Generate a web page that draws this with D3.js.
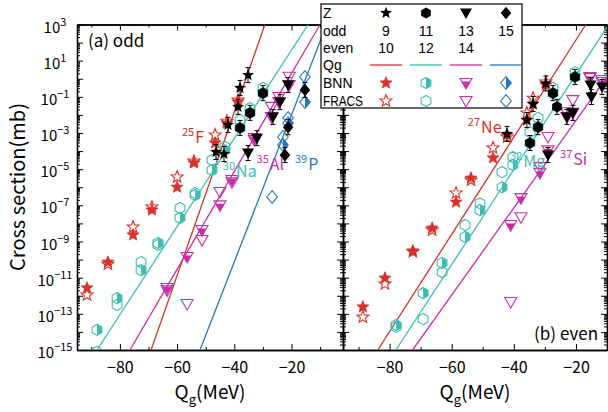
<!DOCTYPE html>
<html>
<head>
<meta charset="utf-8">
<script src="https://cdn.jsdelivr.net/npm/d3@7"></script>
<style>
body { margin: 0; background: #fff; }
text { font-family: "Noto Sans CJK JP", "Liberation Sans", Arial, sans-serif; fill: #000; }
text.lg { font-family: "Liberation Sans", Arial, sans-serif; }
</style>
</head>
<body>
<script>
// ---------- (a) odd Z ----------
// Z=9 (F)
var fQg      = [-91.5, -84.2, -75.4, -68.8, -60.0, -54.1, -46.7, -42.6, -38.7];
var fBNN     = [2.7e-12, 7.2e-11, 2.3e-9, 5.5e-8, 1.0e-6, 2.2e-5, 2.8e-4, 3.5e-3, 5.1e-2];
var fFRACS   = [1.1e-12, 5.6e-11, 6.3e-9, 8.1e-8, 3.7e-6, 2.8e-5, 7.8e-4, 4.5e-3, 6.6e-2];
var fExpQg   = [-46.4, -43.6, -42.2, -38.7, -38.0, -35.2];
var fExp     = [8.9e-5, 6.9e-5, 2.8e-3, 2.8e-2, 0.31, 1.6];
// Z=11 (Na)
var naQg     = [-88.0, -81.0, -72.6, -66.7, -59.0, -53.7, -47.8, -43.3, -38.0, -34.5, -30.0];
var naBNN    = [1.3e-14, 7.4e-13, 2.6e-11, 8.3e-10, 2.0e-8, 3.7e-7, 8.9e-6, 1.1e-4, 1.9e-3, 1.3e-2, 0.16];
var naFRACS  = [8e-16, 3.1e-13, 7.2e-11, 6.5e-10, 7.1e-8, 4.8e-7, 3.2e-5, 1.7e-4, 5.2e-3, 2.4e-2, 0.31];
var naExpQg  = [-38.0, -34.5, -30.0];
var naExp    = [1.9e-3, 1.3e-2, 0.16];
// Z=13 (Al)
var alQg     = [-63.5, -56.5, -51.3, -45.0, -40.8, -33.0, -27.0, -24.4, -20.8];
var alBNN    = [2.7e-12, 1.4e-10, 4.3e-9, 1.0e-7, 2.5e-6, 5.2e-4, 7.6e-3, 5.1e-2, 0.45];
var alFRACS  = [2.0e-12, 3.5e-13, 1.2e-9, 5.5e-7, 1.9e-6, 4.1e-4, 2.8e-2, 9.8e-2, 1.3];
var alExpQg  = [-35.2, -32.1, -26.5, -24.0, -21.2];
var alExp    = [7.8e-5, 5.2e-4, 7.6e-3, 5.1e-2, 0.45];
// Z=15 (P)
var pBnnQg   = [-23.0, -21.2, -15.3];
var pBNN     = [2.2e-4, 3.5e-3, 5.1e-2];
var pFracsQg = [-26.8, -23.0, -21.2, -15.3];
var pFRACS   = [2.9e-7, 6.0e-4, 6.8e-3, 1.26];
var pExpQg   = [-22.3, -21.2, -15.3];
var pExp     = [6.0e-5, 2.1e-3, 0.24];

// ---------- (b) even Z ----------
// Z=10 (Ne)
var neQg     = [-88.6, -81.5, -72.5, -66.3, -58.6, -53.8, -46.7, -42.2, -35.8, -33.8, -29.7];
var neBNN    = [2.4e-13, 9.5e-12, 3.0e-10, 5.5e-9, 1.5e-7, 3.2e-6, 4.2e-5, 7.8e-4, 5.2e-3, 4.0e-2, 0.45];
var neFRACS  = [6.6e-14, 4.5e-12, 2.7e-10, 4.3e-9, 4.8e-7, 2.5e-6, 1.5e-4, 6.0e-4, 1.3e-2, 8.5e-2, 0.66];
var neExpQg  = [-42.2, -35.8, -33.8, -29.7];
var neExp    = [8.9e-4, 5.2e-3, 4.0e-2, 0.55];
// Z=12 (Mg)
var mgQg     = [-77.9, -69.2, -63.1, -55.7, -50.9, -43.8, -40.3, -34.8, -32.2, -27.4, -20.3];
var mgBNN    = [2.4e-14, 1.4e-12, 6.5e-11, 1.8e-9, 5.5e-8, 1.0e-6, 1.7e-5, 2.8e-4, 2.1e-3, 0.16, 1.26];
var mgFRACS  = [1.9e-14, 5.1e-14, 2.0e-11, 8.1e-9, 1.3e-7, 6.9e-6, 4.7e-5, 1.1e-3, 6.8e-3, 0.31, 2.3];
var mgExpQg  = [-34.8, -32.2, -27.4, -26.1, -20.3];
var mgExp    = [2.8e-4, 2.1e-3, 0.16, 2.8e-2, 1.26];
// Z=14 (Si)
var siQg     = [-41.0, -37.7, -31.6, -29.0, -22.9, -21.0, -15.5, -11.6];
var siBNN    = [8.1e-9, 2.5e-7, 6.2e-6, 1.1e-4, 7.6e-3, 1.3e-2, 1.1, 0.66];
var siFRACS  = [4.5e-13, 2.2e-8, 1.3e-5, 6.0e-4, 1.4e-2, 6.6e-2, 1.26, 0.85];
var siExpQg  = [-29.0, -22.9, -21.0, -15.3, -15.0, -11.6];
var siExp    = [6.0e-5, 7.6e-3, 1.3e-2, 0.45, 9.8e-2, 0.35];

// Qg systematics lines (end points)
var fitA_Q = [[-69.1, -29.3], [-88.0, -14.2], [-76.5, -10.0], [-52.0, -7.7]];
var fitA_S = [[1e-15, 1e3], [1e-15, 1e3], [1e-15, 1e3], [1e-15, 1e3]];
var fitB_Q = [[-83.8, -16.8], [-78.0, -10.0], [-72.6, -10.0]];
var fitB_S = [[1e-15, 1e3], [1e-15, 7.2e2], [1e-15, 1.25]];

// ticks / labels
var xMajor = [-80, -60, -40, -20];
var xMinor = [-90, -70, -50, -30, -10];
var yLabelExp = [3, 1, -1, -3, -5, -7, -9, -11, -13, -15];
var legendRows = ["Z", "odd", "even", "Qg", "BNN", "FRACS"];
var legendOdd = ["9", "11", "13", "15"];
var legendEven = ["10", "12", "14"];

var red = "#d6312b", cyan = "#3dbdb1", mag = "#c92ca6", blue = "#2776bf";

var svg = d3.select("body").append("svg").attr("width", 608).attr("height", 412);
var yTop = 24.5, yBot = 350;
var y = d3.scaleLog().domain([1e-15, 1e3]).range([yBot, yTop]);
var xA = d3.scaleLinear().domain([-95, -2]).range([77, 343]);
var xB = d3.scaleLinear().domain([-95, -10]).range([343, 607]);

var yMajor = d3.range(-15, 4).map(k => Math.pow(10, k));
var yMinor = [];
d3.range(-15, 3).forEach(k => d3.range(2, 10).forEach(m => yMinor.push(m * Math.pow(10, k))));

function styleAxis(g) {
  g.selectAll("path.domain").attr("stroke", "#000").attr("stroke-width", 1.3);
  g.selectAll(".tick line").attr("stroke", "#000").attr("stroke-width", 1);
}

function frame(x, id) {
  var x0 = x.range()[0], x1 = x.range()[1];
  var d0 = x.domain()[0], d1 = x.domain()[1];
  var maj = xMajor.filter(v => v > d0 && v < d1), mnr = xMinor.filter(v => v > d0 && v < d1);
  svg.append("clipPath").attr("id", id).append("rect")
    .attr("x", x0).attr("y", yTop).attr("width", x1 - x0).attr("height", yBot - yTop);
  var gb = svg.append("g").attr("transform", `translate(0,${yBot})`)
    .call(d3.axisBottom(x).tickValues(maj).tickSize(-6).tickSizeOuter(0).tickPadding(12).tickFormat(d => "−" + Math.abs(d)));
  gb.selectAll("text").attr("font-size", 16);
  styleAxis(gb);
  svg.append("g").attr("transform", `translate(0,${yBot})`)
    .call(d3.axisBottom(x).tickValues(mnr).tickSize(-3).tickSizeOuter(0).tickFormat("")).call(styleAxis);
  svg.append("g").attr("transform", `translate(0,${yTop})`)
    .call(d3.axisTop(x).tickValues(maj).tickSize(-6).tickSizeOuter(0).tickFormat("")).call(styleAxis);
  svg.append("g").attr("transform", `translate(0,${yTop})`)
    .call(d3.axisTop(x).tickValues(mnr).tickSize(-3).tickSizeOuter(0).tickFormat("")).call(styleAxis);
  svg.append("g").attr("transform", `translate(${x0},0)`)
    .call(d3.axisLeft(y).tickValues(yMajor).tickSize(-6).tickSizeOuter(0).tickFormat("")).call(styleAxis);
  svg.append("g").attr("transform", `translate(${x0},0)`)
    .call(d3.axisLeft(y).tickValues(yMinor).tickSize(-3).tickSizeOuter(0).tickFormat("")).call(styleAxis);
  svg.append("g").attr("transform", `translate(${x1},0)`)
    .call(d3.axisRight(y).tickValues(yMajor).tickSize(-6).tickSizeOuter(0).tickFormat("")).call(styleAxis);
  svg.append("g").attr("transform", `translate(${x1},0)`)
    .call(d3.axisRight(y).tickValues(yMinor).tickSize(-3).tickSizeOuter(0).tickFormat("")).call(styleAxis);
}

function shapePts(shape) {
  var p = [];
  if (shape === "star") {
    for (var i = 0; i < 10; i++) { var a = -Math.PI / 2 + i * Math.PI / 5, r = i % 2 ? 2.7 : 6.3; p.push([r * Math.cos(a), r * Math.sin(a)]); }
  } else if (shape === "hex") {
    for (var j = 0; j < 6; j++) { var b = -Math.PI / 2 + j * Math.PI / 3; p.push([5.6 * Math.cos(b), 5.6 * Math.sin(b)]); }
  } else if (shape === "tri") {
    p = [[-6, -4.5], [6, -4.5], [0, 6]];
  } else {
    p = [[0, -6.3], [5.3, 0], [0, 6.3], [-5.3, 0]];
  }
  return p;
}
function halfPts(shape) {
  if (shape === "hex") return [[0, -5.6], [4.85, -2.8], [4.85, 2.8], [0, 5.6]];
  if (shape === "tri") return [[-4.3, -1.5], [4.3, -1.5], [0, 6]];
  if (shape === "dia") return [[0, -6.3], [5.3, 0], [0, 6.3]];
  return shapePts(shape);
}
var toPath = pts => "M" + pts.map(p => p[0].toFixed(2) + "," + p[1].toFixed(2)).join("L") + "Z";

function drawMarker(g, shape, color, kind) {
  if (kind === "exp") {
    g.append("path").attr("d", toPath(shapePts(shape))).attr("fill", "#000");
  } else if (kind === "bnn") {
    if (shape === "star") {
      g.append("path").attr("d", toPath(shapePts(shape))).attr("fill", color).attr("stroke", color).attr("stroke-width", 0.8);
    } else {
      g.append("path").attr("d", toPath(shapePts(shape))).attr("fill", "none").attr("stroke", color).attr("stroke-width", 1.1);
      g.append("path").attr("d", toPath(halfPts(shape))).attr("fill", color);
    }
  } else {
    g.append("path").attr("d", toPath(shapePts(shape))).attr("fill", "none").attr("stroke", color).attr("stroke-width", 1.1);
  }
}

function marks(x, clip, q, s, shape, color, kind) {
  var g = svg.append("g").attr("clip-path", `url(#${clip})`);
  var pts = q.map((d, i) => [d, s[i]]);
  var m = g.selectAll("g").data(pts).join("g")
    .attr("transform", d => `translate(${x(d[0])},${y(d[1])})`);
  if (kind === "exp") {
    m.append("line").attr("x1", 0).attr("x2", 0)
      .attr("y1", d => y(d[1] * 2.6) - y(d[1])).attr("y2", d => y(d[1] / 2.6) - y(d[1]))
      .attr("stroke", "#000").attr("stroke-width", 1);
    m.append("line").attr("x1", -2.5).attr("x2", 2.5)
      .attr("y1", d => y(d[1] * 2.6) - y(d[1])).attr("y2", d => y(d[1] * 2.6) - y(d[1])).attr("stroke", "#000");
    m.append("line").attr("x1", -2.5).attr("x2", 2.5)
      .attr("y1", d => y(d[1] / 2.6) - y(d[1])).attr("y2", d => y(d[1] / 2.6) - y(d[1])).attr("stroke", "#000");
  }
  m.each(function () { drawMarker(d3.select(this), shape, color, kind); });
}

function fits(x, clip, Q, S, colors) {
  var line = d3.line().x(d => x(d[0])).y(d => y(d[1]));
  var g = svg.append("g").attr("clip-path", `url(#${clip})`);
  Q.forEach((q, i) => {
    g.append("path").attr("d", line([[q[0], S[i][0]], [q[1], S[i][1]]]))
      .attr("fill", "none").attr("stroke", colors[i]).attr("stroke-width", 1.3);
  });
}

function nucLabel(x, q, s, mass, sym, color) {
  var t = svg.append("text").attr("x", x(q)).attr("y", y(s)).attr("font-size", 16).style("fill", color);
  t.append("tspan").attr("font-size", 11).attr("dy", -7).text(mass);
  t.append("tspan").attr("dy", 7).attr("dx", 1).text(sym);
}

// frames
frame(xA, "clipA");
frame(xB, "clipB");

// y tick labels (left only)
yLabelExp.forEach(k => {
  var t = svg.append("text").attr("x", 55).attr("y", y(Math.pow(10, k)) + 8)
    .attr("text-anchor", "middle").attr("font-size", 15);
  t.append("tspan").text("10");
  t.append("tspan").attr("font-size", 11).attr("dy", -7).text(k < 0 ? "−" + Math.abs(k) : String(k));
});

// panel (a)
fits(xA, "clipA", fitA_Q, fitA_S, [red, cyan, mag, blue]);
marks(xA, "clipA", fQg, fFRACS, "star", red, "fracs");
marks(xA, "clipA", naQg, naFRACS, "hex", cyan, "fracs");
marks(xA, "clipA", alQg, alFRACS, "tri", mag, "fracs");
marks(xA, "clipA", pFracsQg, pFRACS, "dia", blue, "fracs");
marks(xA, "clipA", fQg, fBNN, "star", red, "bnn");
marks(xA, "clipA", naQg, naBNN, "hex", cyan, "bnn");
marks(xA, "clipA", alQg, alBNN, "tri", mag, "bnn");
marks(xA, "clipA", pBnnQg, pBNN, "dia", blue, "bnn");
marks(xA, "clipA", fExpQg, fExp, "star", "#000", "exp");
marks(xA, "clipA", naExpQg, naExp, "hex", "#000", "exp");
marks(xA, "clipA", alExpQg, alExp, "tri", "#000", "exp");
marks(xA, "clipA", pExpQg, pExp, "dia", "#000", "exp");

// panel (b)
fits(xB, "clipB", fitB_Q, fitB_S, [red, cyan, mag]);
marks(xB, "clipB", neQg, neFRACS, "star", red, "fracs");
marks(xB, "clipB", mgQg, mgFRACS, "hex", cyan, "fracs");
marks(xB, "clipB", siQg, siFRACS, "tri", mag, "fracs");
marks(xB, "clipB", neQg, neBNN, "star", red, "bnn");
marks(xB, "clipB", mgQg, mgBNN, "hex", cyan, "bnn");
marks(xB, "clipB", siQg, siBNN, "tri", mag, "bnn");
marks(xB, "clipB", neExpQg, neExp, "star", "#000", "exp");
marks(xB, "clipB", mgExpQg, mgExp, "hex", "#000", "exp");
marks(xB, "clipB", siExpQg, siExp, "tri", "#000", "exp");

// nuclide labels
nucLabel(xA, -58.3, 2.8e-4, "25", "F", red);
nucLabel(xA, -44.0, 3.7e-6, "30", "Na", cyan);
nucLabel(xA, -32.2, 8.9e-6, "35", "Al", mag);
nucLabel(xA, -18.8, 8.9e-6, "39", "P", blue);
nucLabel(xB, -54.8, 1.0e-3, "27", "Ne", red);
nucLabel(xB, -41.2, 1.3e-5, "32", "Mg", cyan);
nucLabel(xB, -25.1, 1.7e-5, "37", "Si", mag);

// panel tags
svg.append("text").attr("x", 88).attr("y", 47).attr("font-size", 17).text("(a) odd");
svg.append("text").attr("x", 598).attr("y", 340).attr("text-anchor", "end").attr("font-size", 17).text("(b) even");

// axis titles
svg.append("text").attr("transform", "translate(25,187) rotate(-90)").attr("text-anchor", "middle")
  .attr("font-size", 20).text("Cross section(mb)");
[[xA, 210], [xB, 475]].forEach(p => {
  var t = svg.append("text").attr("x", p[1]).attr("y", 399).attr("text-anchor", "middle").attr("font-size", 19);
  t.append("tspan").text("Q");
  t.append("tspan").attr("font-size", 13).attr("dy", 5).text("g");
  t.append("tspan").attr("dy", -5).text("(MeV)");
});

// legend
var lg = svg.append("g");
lg.append("rect").attr("x", 321).attr("y", 4).attr("width", 201).attr("height", 104)
  .attr("fill", "#fff").attr("stroke", "#000").attr("stroke-width", 1.2);
var rowY = [13, 31, 48, 65, 83, 101];
var colX = [386, 426, 466, 506];
legendRows.forEach((s, i) => {
  var t = lg.append("text").attr("class", "lg").attr("x", 323).attr("y", rowY[i] + 5).attr("font-size", 14).text(s);
  if (s === "FRACS") t.attr("textLength", 40).attr("lengthAdjust", "spacingAndGlyphs");
});
var shapes = ["star", "hex", "tri", "dia"], cols = [red, cyan, mag, blue];
shapes.forEach((sh, i) => {
  drawMarker(lg.append("g").attr("transform", `translate(${colX[i]},${rowY[0]})`), sh, "#000", "exp");
  lg.append("text").attr("class", "lg").attr("x", colX[i]).attr("y", rowY[1] + 5).attr("text-anchor", "middle").attr("font-size", 14).text(legendOdd[i]);
  if (legendEven[i]) lg.append("text").attr("class", "lg").attr("x", colX[i]).attr("y", rowY[2] + 5).attr("text-anchor", "middle").attr("font-size", 14).text(legendEven[i]);
  lg.append("line").attr("x1", colX[i] - 16).attr("x2", colX[i] + 16).attr("y1", rowY[3]).attr("y2", rowY[3])
    .attr("stroke", cols[i]).attr("stroke-width", 1.3);
  drawMarker(lg.append("g").attr("transform", `translate(${colX[i]},${rowY[4]})`), sh, cols[i], "bnn");
  drawMarker(lg.append("g").attr("transform", `translate(${colX[i]},${rowY[5]})`), sh, cols[i], "fracs");
});
</script>
</body>
</html>
